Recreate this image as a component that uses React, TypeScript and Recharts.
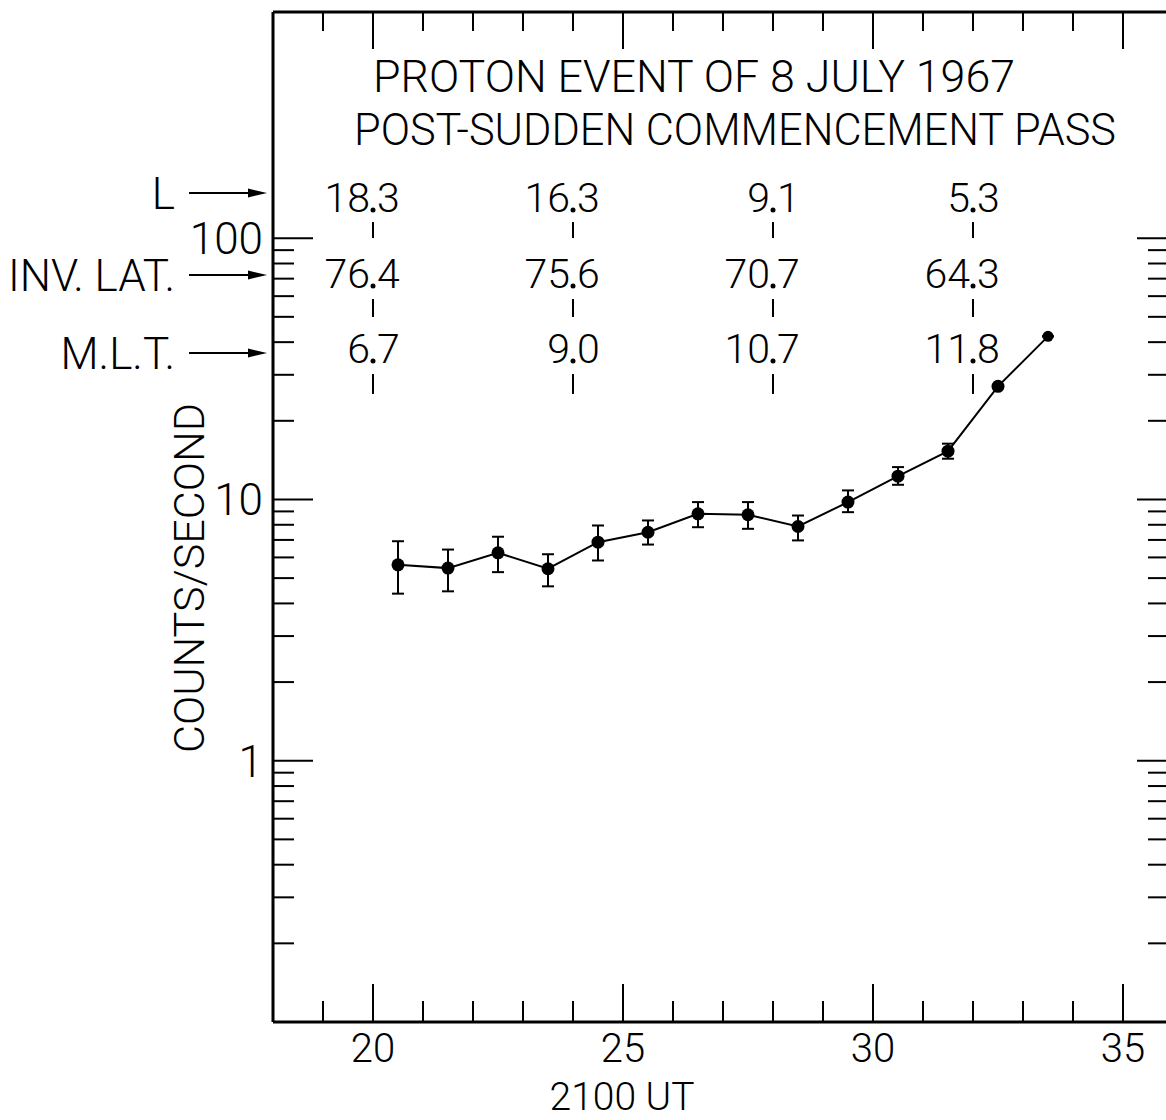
import React from 'react';
import { ComposedChart, Scatter, XAxis, YAxis, ErrorBar } from 'recharts';

// ---- data ----
const utMinutes = [20.5, 21.5, 22.5, 23.5, 24.5, 25.5, 26.5, 27.5, 28.5, 29.5, 30.5, 31.5, 32.5, 33.5];
const counts = [5.62, 5.46, 6.25, 5.43, 6.86, 7.49, 8.81, 8.74, 7.88, 9.77, 12.28, 15.31, 27.1, 42.1];
const countsLow = [4.36, 4.45, 5.27, 4.65, 5.84, 6.72, 7.83, 7.72, 6.97, 8.94, 11.38, 14.32, 27.1, 42.1];
const countsHigh = [6.92, 6.43, 7.2, 6.17, 7.95, 8.31, 9.77, 9.77, 8.68, 10.83, 13.3, 16.35, 27.1, 42.1];

const xTicks = [19, 20, 21, 22, 23, 24, 25, 26, 27, 28, 29, 30, 31, 32, 33, 34, 35];
const xLabelTicks = [20, 25, 30, 35];
const yTicks = [0.2, 0.3, 0.4, 0.5, 0.6, 0.7, 0.8, 0.9, 1, 2, 3, 4, 5, 6, 7, 8, 9, 10, 20, 30, 40, 50, 60, 70, 80, 90, 100];
const yLabelTicks = [1, 10, 100];

const annotationColumns = [20, 24, 28, 32];
const lValues = ['18.3', '16.3', '9.1', '5.3'];
const invLatValues = ['76.4', '75.6', '70.7', '64.3'];
const mltValues = ['6.7', '9.0', '10.7', '11.8'];
const rowLabels = ['L', 'INV. LAT.', 'M.L.T.'];
const titleLines = ['PROTON EVENT OF 8 JULY 1967', 'POST-SUDDEN COMMENCEMENT PASS'];
const xAxisTitle = '2100 UT';
const yAxisTitle = 'COUNTS/SECOND';

// ---- layout ----
const CHART_W = 1200;
const CHART_H = 1120;
const PLOT_LEFT = 273;
const PLOT_TOP = 12;
const PLOT_RIGHT = 1173;
const PLOT_BOTTOM = 1022;
const X_DOMAIN: [number, number] = [18, 36];
const Y_DOMAIN: [number, number] = [0.1, 734];
const FONT = "Roboto, 'DejaVu Sans', sans-serif";
const FW = 300;

const xPix = (v: number) => PLOT_LEFT + ((v - X_DOMAIN[0]) / (X_DOMAIN[1] - X_DOMAIN[0])) * (PLOT_RIGHT - PLOT_LEFT);

const chartData = utMinutes.map((x, i) => ({
  x,
  y: counts[i],
  err: [counts[i] - countsLow[i], countsHigh[i] - counts[i]],
}));

const LeftTick = (props: any) => {
  const { x, y, payload } = props;
  const major = yLabelTicks.includes(payload.value);
  return (
    <g>
      <line x1={x} x2={x + (major ? 40 : 21)} y1={y} y2={y} stroke="#000" strokeWidth={2} />
      {major && (
        <text x={x - 10} y={y + 16} textAnchor="end" fontSize={44} fontFamily={FONT} fontWeight={FW} fill="#000">
          {String(payload.value)}
        </text>
      )}
    </g>
  );
};

const RightTick = (props: any) => {
  const { x, y, payload } = props;
  const major = yLabelTicks.includes(payload.value);
  return <line x1={x} x2={x - (major ? 36 : 25)} y1={y} y2={y} stroke="#000" strokeWidth={2} />;
};

const BottomTick = (props: any) => {
  const { x, y, payload } = props;
  const major = xLabelTicks.includes(payload.value);
  return (
    <g>
      <line x1={x} x2={x} y1={y} y2={y - (major ? 38 : 21)} stroke="#000" strokeWidth={2} />
      {major && (
        <text x={x} y={y + 40} textAnchor="middle" fontSize={40} fontFamily={FONT} fontWeight={FW} fill="#000">
          {String(payload.value)}
        </text>
      )}
    </g>
  );
};

const TopTick = (props: any) => {
  const { x, y, payload } = props;
  const major = xLabelTicks.includes(payload.value);
  return <line x1={x} x2={x} y1={y} y2={y + (major ? 37 : 19)} stroke="#000" strokeWidth={2} />;
};

const Dot = (props: any) => {
  const { cx, cy, payload } = props;
  const last = payload && payload.x === utMinutes[utMinutes.length - 1];
  return <circle cx={cx} cy={cy} r={last ? 5.5 : 6.5} fill="#000" />;
};

const Hidden = () => <g />;

const AnnotValue = ({ cx, baseline, text }: { cx: number; baseline: number; text: string }) => {
  const [ip, fp] = text.split('.');
  const common = { fontSize: 41, fontFamily: FONT, fontWeight: FW, fill: '#000' } as any;
  return (
    <g>
      <text x={cx - 3} y={baseline} textAnchor="end" {...common}>{ip}</text>
      <circle cx={cx} cy={baseline - 2} r={2.5} fill="#000" />
      <text x={cx + 4} y={baseline} textAnchor="start" {...common}>{fp}</text>
    </g>
  );
};

const rows = [
  { label: rowLabels[0], values: lValues, baseline: 212, tick: [222, 238], arrowY: 193 },
  { label: rowLabels[1], values: invLatValues, baseline: 288, tick: [299, 317], arrowY: 275 },
  { label: rowLabels[2], values: mltValues, baseline: 363, tick: [374, 394], arrowY: 353 },
];

const Overlay = () => (
  <svg width={1166} height={1120} style={{ position: 'absolute', left: 0, top: 0, pointerEvents: 'none' }}>
    <text x={373} y={92} fontSize={45} fontFamily={FONT} fontWeight={FW} fill="#000" textLength={642} lengthAdjust="spacingAndGlyphs">
      {titleLines[0]}
    </text>
    <text x={354} y={145} fontSize={45} fontFamily={FONT} fontWeight={FW} fill="#000" textLength={762} lengthAdjust="spacingAndGlyphs">
      {titleLines[1]}
    </text>
    {rows.map((r, ri) => (
      <g key={ri}>
        <text x={175} y={r.arrowY + 16} textAnchor="end" fontSize={44} fontFamily={FONT} fontWeight={FW} fill="#000">
          {r.label}
        </text>
        <line x1={189} x2={252} y1={r.arrowY} y2={r.arrowY} stroke="#000" strokeWidth={2} />
        <polygon points={`267,${r.arrowY} 248,${r.arrowY - 4.5} 248,${r.arrowY + 4.5}`} fill="#000" />
        {annotationColumns.map((c, ci) => (
          <g key={ci}>
            <AnnotValue cx={xPix(c)} baseline={r.baseline} text={r.values[ci]} />
            <line x1={xPix(c)} x2={xPix(c)} y1={r.tick[0]} y2={r.tick[1]} stroke="#000" strokeWidth={2} />
          </g>
        ))}
      </g>
    ))}
    <text
      x={0}
      y={0}
      transform="translate(204 578) rotate(-90)"
      textAnchor="middle"
      fontSize={42}
      fontFamily={FONT}
      fontWeight={FW}
      fill="#000"
      textLength={350}
      lengthAdjust="spacingAndGlyphs"
    >
      {yAxisTitle}
    </text>
    <text x={622} y={1110} textAnchor="middle" fontSize={39} fontFamily={FONT} fontWeight={FW} fill="#000">
      {xAxisTitle}
    </text>
  </svg>
);

export default function App() {
  const axisLine = { stroke: '#000', strokeWidth: 3 };
  return (
    <div style={{ position: 'absolute', left: 0, top: 0, width: 1166, height: 1120, overflow: 'hidden', background: '#fff' }}>
      <ComposedChart width={CHART_W} height={CHART_H} data={chartData} margin={{ top: 0, right: 0, bottom: 0, left: 0 }}>
        <XAxis
          xAxisId="bottom"
          orientation="bottom"
          dataKey="x"
          type="number"
          domain={X_DOMAIN}
          allowDataOverflow
          ticks={xTicks}
          interval={0}
          height={CHART_H - PLOT_BOTTOM}
          tickSize={0}
          tickMargin={0}
          tickLine={false}
          axisLine={axisLine}
          tick={<BottomTick />}
        />
        <XAxis
          xAxisId="top"
          orientation="top"
          dataKey="x"
          type="number"
          domain={X_DOMAIN}
          allowDataOverflow
          ticks={xTicks}
          interval={0}
          height={PLOT_TOP}
          tickSize={0}
          tickMargin={0}
          tickLine={false}
          axisLine={axisLine}
          tick={<TopTick />}
        />
        <YAxis
          yAxisId="left"
          orientation="left"
          dataKey="y"
          type="number"
          scale="log"
          domain={Y_DOMAIN}
          allowDataOverflow
          ticks={yTicks}
          interval={0}
          width={PLOT_LEFT}
          tickSize={0}
          tickMargin={0}
          tickLine={false}
          axisLine={axisLine}
          tick={<LeftTick />}
        />
        <YAxis
          yAxisId="right"
          orientation="right"
          dataKey="y"
          type="number"
          scale="log"
          domain={Y_DOMAIN}
          allowDataOverflow
          ticks={yTicks}
          interval={0}
          width={CHART_W - PLOT_RIGHT}
          tickSize={0}
          tickMargin={0}
          tickLine={false}
          axisLine={axisLine}
          tick={<RightTick />}
        />
        <Scatter
          xAxisId="top"
          yAxisId="right"
          data={chartData}
          dataKey="y"
          shape={<Hidden />}
          isAnimationActive={false}
        />
        <Scatter
          xAxisId="bottom"
          yAxisId="left"
          data={chartData}
          dataKey="y"
          line={{ stroke: '#000', strokeWidth: 2 }}
          shape={<Dot />}
          isAnimationActive={false}
        >
          <ErrorBar dataKey="err" direction="y" width={6} stroke="#000" strokeWidth={2} />
        </Scatter>
      </ComposedChart>
      <Overlay />
    </div>
  );
}
